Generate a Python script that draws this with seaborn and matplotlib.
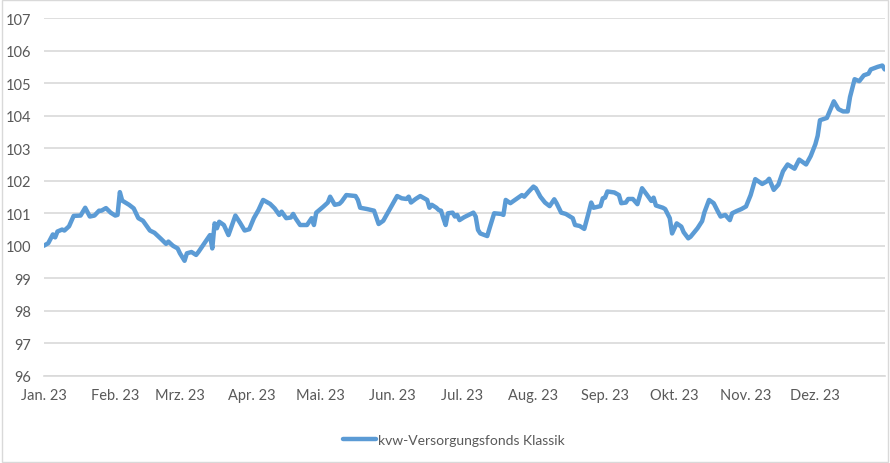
import numpy as np
import pandas as pd
import matplotlib
matplotlib.use("Agg")
import matplotlib.pyplot as plt
from matplotlib.patches import Rectangle
import seaborn as sns

# Days since 1 Jan 2023 and fund value
days = [0, 2, 4, 5, 6, 8, 9, 11, 13, 16, 18, 20, 22, 24, 25, 27, 29, 31, 32, 33,
        34, 37, 39, 41, 43, 46, 48, 51, 53, 54, 56, 58, 59, 61, 62, 64, 66, 67, 69, 71,
        72, 73, 74, 75, 76, 78, 80, 83, 85, 87, 89, 91, 93, 95, 98, 100, 102, 103, 105, 107,
        108, 109, 111, 114, 116, 117, 118, 121, 123, 124, 126, 128, 129, 131, 135, 136, 137, 140, 143, 145,
        147, 150, 153, 155, 157, 158, 159, 161, 163, 166, 167, 168, 170, 171, 172, 173, 174, 175, 177, 178,
        179, 180, 182, 184, 186, 187, 188, 189, 192, 193, 195, 198, 199, 200, 202, 205, 207, 208, 210, 212,
        213, 215, 217, 219, 221, 222, 224, 226, 229, 230, 232, 234, 236, 237, 238, 241, 242, 243, 244, 247,
        249, 250, 252, 253, 255, 257, 259, 261, 263, 264, 265, 268, 269, 271, 272, 274, 276, 277, 279, 280,
        283, 285, 286, 288, 290, 292, 293, 295, 297, 298, 300, 302, 304, 306, 308, 311, 313, 314, 316, 318,
        320, 322, 325, 327, 328, 330, 332, 334, 335, 336, 339, 340, 342, 344, 346, 348, 349, 351, 353, 355,
        357, 358, 361, 363, 364]
values = [100.00, 100.08, 100.35, 100.26, 100.44, 100.50, 100.47, 100.60, 100.92, 100.93,
          101.17, 100.90, 100.93, 101.08, 101.08, 101.16, 101.02, 100.93, 100.95, 101.65,
          101.39, 101.26, 101.15, 100.85, 100.77, 100.47, 100.40, 100.20, 100.06, 100.13,
          100.00, 99.92, 99.77, 99.54, 99.77, 99.81, 99.72, 99.81, 100.02, 100.23,
          100.33, 99.92, 100.69, 100.54, 100.74, 100.64, 100.33, 100.93, 100.71, 100.47,
          100.51, 100.85, 101.10, 101.41, 101.29, 101.15, 100.95, 101.05, 100.85, 100.87,
          100.98, 100.85, 100.64, 100.64, 100.85, 100.64, 101.02, 101.20, 101.33, 101.51,
          101.26, 101.29, 101.36, 101.56, 101.53, 101.41, 101.17, 101.13, 101.08, 100.67,
          100.77, 101.15, 101.53, 101.46, 101.44, 101.51, 101.33, 101.44, 101.53, 101.41,
          101.17, 101.26, 101.17, 101.10, 101.08, 100.85, 100.64, 101.00, 101.02, 100.90,
          100.95, 100.79, 100.88, 100.95, 101.02, 100.90, 100.49, 100.38, 100.30, 100.54,
          101.00, 100.98, 100.95, 101.41, 101.31, 101.46, 101.56, 101.51, 101.67, 101.82,
          101.77, 101.51, 101.33, 101.22, 101.43, 101.31, 101.02, 100.98, 100.85, 100.64,
          100.61, 100.52, 101.05, 101.33, 101.17, 101.22, 101.46, 101.48, 101.67, 101.64,
          101.56, 101.31, 101.33, 101.44, 101.44, 101.28, 101.77, 101.58, 101.38, 101.48,
          101.24, 101.17, 101.13, 100.85, 100.38, 100.69, 100.59, 100.42, 100.23, 100.28,
          100.54, 100.76, 101.03, 101.41, 101.31, 101.03, 100.90, 100.95, 100.79, 101.00,
          101.07, 101.13, 101.21, 101.56, 102.05, 101.90, 101.98, 102.06, 101.72, 101.88,
          102.29, 102.50, 102.37, 102.65, 102.60, 102.50, 102.76, 103.12, 103.38, 103.86,
          103.93, 104.10, 104.44, 104.20, 104.13, 104.13, 104.57, 105.12, 105.06, 105.24,
          105.29, 105.42, 105.50, 105.54, 105.42]

series_name = "kvw-Versorgungsfonds Klassik"
month_labels = ["Jan. 23", "Feb. 23", "Mrz. 23", "Apr. 23", "Mai. 23", "Jun. 23",
                "Jul. 23", "Aug. 23", "Sep. 23", "Okt. 23", "Nov. 23", "Dez. 23"]
y_ticks = list(range(96, 108))

LINE_COLOR = "#5B9BD5"
GRID_COLOR = "#D9D9D9"
TEXT_COLOR = "#595959"


def build_frame():
    """Turn day offsets into real dates for the time axis."""
    start = pd.Timestamp("2023-01-01")
    dates = start + pd.to_timedelta(days, unit="D")
    return pd.DataFrame({"Datum": dates, "Wert": values, "Fonds": series_name})


def main():
    sns.set_style("white")
    plt.rcParams["font.family"] = ["Lato", "DejaVu Sans"]

    df = build_frame()

    fig = plt.figure(figsize=(8.9, 4.64), dpi=100)
    ax = fig.add_axes([0.049, 0.1875, 0.945, 0.7715])

    sns.lineplot(data=df, x="Datum", y="Wert", hue="Fonds", palette=[LINE_COLOR],
                 linewidth=3.2, ax=ax, legend=False)

    ax.set_xlim(pd.Timestamp("2023-01-01"), pd.Timestamp("2023-12-31"))
    ax.set_ylim(96, 107)
    ax.set_yticks(y_ticks)
    ax.grid(axis="y", color=GRID_COLOR, linewidth=1.2)
    ax.set_axisbelow(True)

    month_starts = pd.date_range("2023-01-01", periods=12, freq="MS")
    ax.set_xticks(month_starts)
    ax.set_xticklabels(month_labels)
    ax.set_xlabel("")
    ax.set_ylabel("")

    for side in ["top", "right", "left"]:
        ax.spines[side].set_visible(False)
    ax.spines["bottom"].set_color(GRID_COLOR)
    ax.spines["bottom"].set_linewidth(1.2)

    ax.tick_params(axis="x", colors=GRID_COLOR, length=4, width=1, labelcolor=TEXT_COLOR,
                   labelsize=10.5, pad=5, direction="out")
    ax.tick_params(axis="y", length=0, labelcolor=TEXT_COLOR, labelsize=10.5, pad=9)

    handle = plt.Line2D([], [], color=LINE_COLOR, linewidth=3.2)
    fig.legend([handle], [series_name], loc="center", bbox_to_anchor=(0.51, 0.05),
               frameon=False, fontsize=10, labelcolor=TEXT_COLOR,
               handlelength=2.4, handletextpad=0.1)

    # thin frame around the whole chart
    fig.patches.append(Rectangle((0.002, 0.002), 0.996, 0.996, transform=fig.transFigure,
                                 fill=False, edgecolor=GRID_COLOR, linewidth=1))

    fig.savefig("out.png", dpi=100)


if __name__ == "__main__":
    main()
